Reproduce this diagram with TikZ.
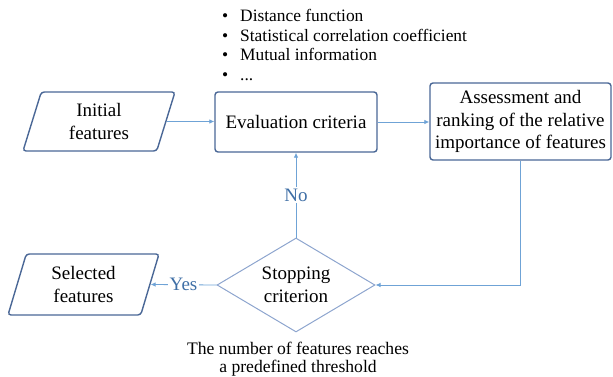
\documentclass[tikz,border=0pt]{standalone}
\usepackage{fontspec}
\setmainfont{Liberation Serif}
\usetikzlibrary{shapes.geometric,arrows.meta}
\definecolor{boxc}{HTML}{4A6796}
\definecolor{arrc}{HTML}{6FA3D6}
\definecolor{labc}{HTML}{3F6FA6}
\definecolor{diac}{HTML}{8DA5CE}
\begin{document}
\begin{tikzpicture}[x=1pt,y=-1pt,
  every node/.style={font=\fontsize{19}{22.5}\selectfont, align=center},
  proc/.style={draw=boxc, line width=1.4pt, rounded corners=3pt, inner sep=0pt},
  io/.style={draw=boxc, line width=1.4pt, rounded corners=3pt, trapezium,
    trapezium left angle=63, trapezium right angle=117, trapezium stretches body, inner sep=0pt},
  decision/.style={draw=diac, line width=1pt, diamond, shape aspect=1.68, inner sep=0pt},
  conn/.style={draw=arrc, line width=0.8pt, -{Latex[length=5pt,width=4.5pt]}},
  lab/.style={text=labc, fill=white, inner sep=1.5pt, font=\fontsize{19}{20}\selectfont},
  note/.style={font=\fontsize{17.4}{19.7}\selectfont, inner sep=0pt}
]
\useasboundingbox (0,0) rectangle (613,377);
\node[io, minimum width=152pt, minimum height=59pt] (init) at (99,121.5) {Initial\\features};
\node[proc, minimum width=162pt, minimum height=60pt] (eval) at (296,122) {Evaluation criteria};
\node[proc, minimum width=181pt, minimum height=77pt] (assess) at (520.5,121.5) {Assessment and\\ranking of the relative\\importance of features};
\node[decision, minimum width=158pt, minimum height=94pt] (stop) at (296,285) {Stopping\\criterion};
\node[io, minimum width=151pt, minimum height=61pt] (sel) at (83.5,284.5) {Selected\\features};
\node[note, anchor=north west, align=left] (list) at (222,9) {%
\makebox[18pt][l]{\textbullet}Distance function\\
\makebox[18pt][l]{\textbullet}Statistical correlation coefficient\\
\makebox[18pt][l]{\textbullet}Mutual information\\
\makebox[18pt][l]{\textbullet}...};
\node[note, font=\fontsize{17.6}{18.5}\selectfont] (thr) at (298,359) {The number of features reaches\\a predefined threshold};
\draw[conn] (init.east) -- (init.east -| eval.west);
\draw[conn] (eval.east) -- (eval.east -| assess.west);
\draw[conn] (assess.south) |- (stop.east);
\draw[conn] (stop.north) -- node[lab] (no) {No} (eval.south);
\draw[conn] (stop.west) -- node[lab] (yes) {Yes} (sel.east);
\end{tikzpicture}
\end{document}
